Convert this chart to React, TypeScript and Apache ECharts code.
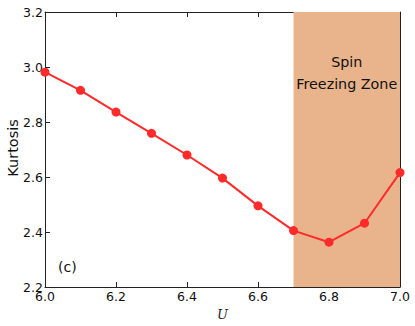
import React, { useEffect, useRef } from "react";
import * as echarts from "echarts";

const uValues = [6.0, 6.1, 6.2, 6.3, 6.4, 6.5, 6.6, 6.7, 6.8, 6.9, 7.0];
const kurtosis = [2.981, 2.915, 2.836, 2.759, 2.68, 2.596, 2.495, 2.405, 2.363, 2.432, 2.616];
const zoneStart = 6.7;
const zoneEnd = 7.0;
const zoneLabel = "Spin\nFreezing Zone";
const panelLabel = "(c)";
const yTitle = "Kurtosis";
const xTitle = "U";

export default function App() {
  const ref = useRef<HTMLDivElement>(null);
  useEffect(() => {
    if (!ref.current) return;
    const chart = echarts.init(ref.current, null, { renderer: "svg" });
    const font = "DejaVu Sans";
    const axisLine = { show: true, lineStyle: { color: "#222", width: 1 } };
    const tickIn = { show: true, inside: true, length: 5, lineStyle: { color: "#222", width: 1 } };
    chart.setOption({
      animation: false,
      backgroundColor: "#fff",
      grid: { left: 45, right: 15, top: 12, bottom: 39, containLabel: false, outerBoundsMode: "none" },
      xAxis: [
        {
          type: "value",
          min: 6.0,
          max: 7.0,
          interval: 0.2,
          position: "bottom",
          name: xTitle,
          nameLocation: "middle",
          nameGap: 12,
          nameTextStyle: { fontFamily: "DejaVu Serif", fontStyle: "italic", fontSize: 13, color: "#222" },
          axisLine,
          axisTick: tickIn,
          splitLine: { show: false },
          axisLabel: {
            margin: 3,
            fontFamily: font,
            fontSize: 12.5,
            color: "#111",
            formatter: (v: number) => v.toFixed(1),
          },
        },
        {
          type: "value",
          min: 6.0,
          max: 7.0,
          interval: 0.2,
          position: "top",
          axisLine,
          axisTick: tickIn,
          axisLabel: { show: false },
          splitLine: { show: false },
        },
      ],
      yAxis: [
        {
          type: "value",
          min: 2.2,
          max: 3.2,
          interval: 0.2,
          position: "left",
          axisLine,
          axisTick: tickIn,
          splitLine: { show: false },
          axisLabel: {
            margin: 2,
            fontFamily: font,
            fontSize: 12.5,
            color: "#111",
            formatter: (v: number) => v.toFixed(1),
          },
        },
        {
          type: "value",
          min: 2.2,
          max: 3.2,
          interval: 0.2,
          position: "right",
          axisLine,
          axisTick: tickIn,
          axisLabel: { show: false },
          splitLine: { show: false },
        },
      ],
      series: [
        {
          type: "line",
          data: uValues.map((u, i) => [u, kurtosis[i]]),
          xAxisIndex: 0,
          yAxisIndex: 0,
          symbol: "circle",
          symbolSize: 9,
          clip: false,
          lineStyle: { color: "#ff2a2a", width: 2 },
          itemStyle: { color: "#ff2a2a" },
          z: 3,
          markArea: {
            silent: true,
            itemStyle: { color: "#e9b48c", opacity: 1 },
            label: {
              show: true,
              position: "insideTop",
              distance: 39,
              formatter: zoneLabel,
              fontFamily: font,
              fontSize: 14.3,
              lineHeight: 22,
              color: "#111",
              align: "center",
            },
            data: [[{ xAxis: zoneStart }, { xAxis: zoneEnd }]],
          },
        },
      ],
      graphic: [
        {
          type: "text",
          left: 58,
          top: 260,
          style: { text: panelLabel, fontFamily: font, fontSize: 14, fill: "#111" },
        },
        {
          type: "text",
          x: 13,
          y: 148,
          rotation: Math.PI / 2,
          style: {
            text: yTitle,
            fontFamily: font,
            fontSize: 14.5,
            fill: "#111",
            align: "center",
            verticalAlign: "middle",
          },
        },
      ],
    });
    return () => chart.dispose();
  }, []);
  return <div ref={ref} style={{ width: 415, height: 326, position: "absolute", left: 0, top: 0 }} />;
}
